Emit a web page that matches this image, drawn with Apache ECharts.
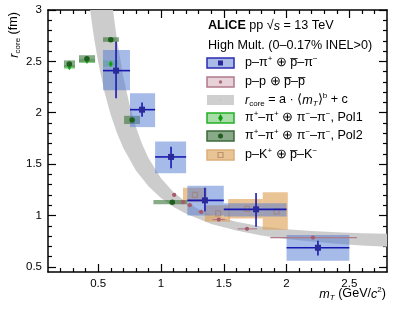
<!DOCTYPE html>
<html><head><meta charset="utf-8">
<script src="https://cdn.jsdelivr.net/npm/echarts@6/dist/echarts.min.js"></script>
<style>html,body{margin:0;padding:0;background:#fff}#c{width:400px;height:310px}</style>
</head><body><div id="c"></div>
<script>
const FONT = '"Liberation Sans", Arial, Helvetica, sans-serif';

// ---- axis ticks ----
const xMajor = [0.5, 1, 1.5, 2, 2.5];
const xMinor = [0.2,0.3,0.4,0.6,0.7,0.8,0.9,1.1,1.2,1.3,1.4,1.6,1.7,1.8,1.9,2.1,2.2,2.3,2.4,2.6,2.7];
const yMajor = [0.5, 1, 1.5, 2, 2.5, 3];
const yMinor = [0.6,0.7,0.8,0.9,1.1,1.2,1.3,1.4,1.6,1.7,1.8,1.9,2.1,2.2,2.3,2.4,2.6,2.7,2.8,2.9];
const xTickLabels = ['0.5', '1', '1.5', '2', '2.5'];
const yTickLabels = ['0.5', '1', '1.5', '2', '2.5', '3'];

// ---- p–pi ----
const ppiX     = [0.642, 0.849, 1.08, 1.35, 1.757, 2.25];
const ppiY     = [2.41, 2.03, 1.57, 1.147, 1.06, 0.686];
const ppiXLo   = [0.538, 0.753, 0.953, 1.21, 1.50, 2.00];
const ppiXHi   = [0.753, 0.953, 1.20, 1.50, 2.00, 2.50];
const ppiSysLo = [2.22, 1.86, 1.41, 1.00, 0.99, 0.56];
const ppiSysHi = [2.61, 2.19, 1.72, 1.29, 1.12, 0.81];
const ppiStatLo= [2.14, 1.96, 1.46, 1.04, 0.89, 0.61];
const ppiStatHi= [2.69, 2.10, 1.67, 1.27, 1.22, 0.755];

// ---- p–p ----
const ppX   = [1.105, 1.175, 1.23, 1.32, 1.46, 1.685, 2.21];
const ppY   = [1.20, 1.13, 1.10, 1.035, 0.96, 0.87, 0.785];
const ppXLo = [1.09, 1.16, 1.21, 1.29, 1.41, 1.61, 1.87];
const ppXHi = [1.12, 1.19, 1.25, 1.34, 1.51, 1.765, 2.56];

// ---- p–K ----
const pkX     = [1.27, 1.455, 1.685, 1.92];
const pkY     = [1.20, 1.02, 1.065, 1.04];
const pkXLo   = [1.175, 1.35, 1.535, 1.81];
const pkXHi   = [1.365, 1.55, 1.81, 2.01];
const pkSysLo = [1.13, 0.94, 0.97, 0.86];
const pkSysHi = [1.27, 1.10, 1.16, 1.225];

// ---- pi–pi Pol1 ----
const pol1X     = [0.27, 0.41, 0.60];
const pol1Y     = [2.445, 2.505, 2.475];
const pol1XLo   = [0.227, 0.347, 0.538];
const pol1XHi   = [0.315, 0.475, 0.66];
const pol1SysLo = [2.425, 2.485, 2.45];
const pol1SysHi = [2.465, 2.525, 2.51];

// ---- pi–pi Pol2 ----
const pol2X     = [0.27, 0.41, 0.60, 0.77, 1.09];
const pol2Y     = [2.475, 2.525, 2.71, 1.93, 1.13];
const pol2XLo   = [0.227, 0.347, 0.538, 0.706, 0.94];
const pol2XHi   = [0.315, 0.475, 0.665, 0.833, 1.21];
const pol2SysLo = [2.44, 2.49, 2.69, 1.89, 1.11];
const pol2SysHi = [2.51, 2.56, 2.735, 1.97, 1.15];

// ---- fit band edges ----
const bandUpX = [0.60,0.61,0.618,0.63,0.65,0.7,0.75,0.8,0.85,0.9,1.0,1.1,1.2,1.3,1.4,1.6,1.8,2.0,2.2,2.4,2.6,2.8,2.9];
const bandUpY = [3.188,3.08,3.0,2.883,2.708,2.349,2.075,1.862,1.694,1.560,1.362,1.227,1.131,1.061,1.008,0.938,0.894,0.865,0.848,0.836,0.828,0.822,0.820];
const bandLoX = [0.42,0.435,0.45,0.47,0.5,0.55,0.6,0.65,0.7,0.8,0.9,1.0,1.1,1.2,1.4,1.6,1.8,2.0,2.2,2.4,2.6,2.8,2.9];
const bandLoY = [3.157,3.006,2.869,2.704,2.491,2.203,1.979,1.801,1.657,1.439,1.284,1.170,1.083,1.016,0.918,0.853,0.806,0.772,0.746,0.725,0.709,0.696,0.690];

const X_MIN = 0.1, X_MAX = 2.8, Y_MIN = 0.45, Y_MAX = 3.0;

function boxSeries(name, xlo, xhi, ylo, yhi, fill, z) {
  return {
    type: 'custom', name, z, clip: true, silent: true,
    data: xlo.map((v, i) => [v, xhi[i], ylo[i], yhi[i]]),
    encode: { x: [0, 1], y: [2, 3] },
    renderItem(params, api) {
      const a = api.coord([api.value(0), api.value(3)]);
      const b = api.coord([api.value(1), api.value(2)]);
      return { type: 'rect', shape: { x: a[0], y: a[1], width: b[0] - a[0], height: b[1] - a[1] }, style: { fill } };
    }
  };
}

function markerEl(kind, c, s, color) {
  if (kind === 'square') return { type: 'rect', shape: { x: c[0] - s / 2, y: c[1] - s / 2, width: s, height: s }, style: { fill: color } };
  if (kind === 'hsquare') return { type: 'rect', shape: { x: c[0] - s / 2, y: c[1] - s / 2, width: s, height: s }, style: { fill: 'none', stroke: color, lineWidth: 1.2 } };
  if (kind === 'diamond') return { type: 'polygon', shape: { points: [[c[0], c[1] - s * 0.65], [c[0] + s * 0.4, c[1]], [c[0], c[1] + s * 0.65], [c[0] - s * 0.4, c[1]]] }, style: { fill: color } };
  return { type: 'circle', shape: { cx: c[0], cy: c[1], r: s / 2 }, style: { fill: color } };
}

function pointSeries(name, xs, ys, xlo, xhi, ylo, yhi, kind, size, mColor, lColor, lw, z) {
  return {
    type: 'custom', name, z, clip: true, silent: true,
    data: xs.map((v, i) => [v, ys[i], xlo ? xlo[i] : v, xhi ? xhi[i] : v, ylo ? ylo[i] : ys[i], yhi ? yhi[i] : ys[i]]),
    encode: { x: 0, y: 1 },
    renderItem(params, api) {
      const c = api.coord([api.value(0), api.value(1)]);
      const l = api.coord([api.value(2), api.value(1)]);
      const r = api.coord([api.value(3), api.value(1)]);
      const t = api.coord([api.value(0), api.value(5)]);
      const b = api.coord([api.value(0), api.value(4)]);
      const ch = [];
      if (r[0] - l[0] > 0.5) ch.push({ type: 'line', shape: { x1: l[0], y1: c[1], x2: r[0], y2: c[1] }, style: { stroke: lColor, lineWidth: lw } });
      if (b[1] - t[1] > 0.5) ch.push({ type: 'line', shape: { x1: c[0], y1: t[1], x2: c[0], y2: b[1] }, style: { stroke: lColor, lineWidth: lw } });
      ch.push(markerEl(kind, c, size, mColor));
      return { type: 'group', children: ch };
    }
  };
}

const bandSeries = {
  type: 'custom', name: 'fit', z: 1, clip: true, silent: true,
  data: [[bandLoX[0], bandLoY[0]]],
  renderItem(params, api) {
    const pts = [];
    for (let i = 0; i < bandLoX.length; i++) pts.push(api.coord([bandLoX[i], bandLoY[i]]));
    for (let i = bandUpX.length - 1; i >= 0; i--) pts.push(api.coord([bandUpX[i], bandUpY[i]]));
    return { type: 'polygon', shape: { points: pts }, style: { fill: '#cccccc' } };
  }
};

function xAx(pos, ticks, len, showLine, labels) {
  return {
    type: 'value', min: X_MIN, max: X_MAX, position: pos,
    axisLine: { show: showLine, onZero: false, lineStyle: { color: '#000', width: 1.5 } },
    axisTick: { show: true, inside: true, length: len, customValues: ticks, lineStyle: { color: '#000', width: 1.2 } },
    axisLabel: labels ? { show: true, customValues: ticks, formatter: v => xTickLabels[xMajor.indexOf(+v.toFixed(2))] ?? '', color: '#000', fontSize: 11.5, fontFamily: FONT, margin: 6 } : { show: false },
    splitLine: { show: false }
  };
}
function yAx(pos, ticks, len, showLine, labels) {
  return {
    type: 'value', min: Y_MIN, max: Y_MAX, position: pos,
    axisLine: { show: showLine, onZero: false, lineStyle: { color: '#000', width: 1.5 } },
    axisTick: { show: true, inside: true, length: len, customValues: ticks, lineStyle: { color: '#000', width: 1.2 } },
    axisLabel: labels ? { show: true, customValues: ticks, formatter: v => yTickLabels[yMajor.indexOf(+v.toFixed(2))] ?? '', color: '#000', fontSize: 11.5, fontFamily: FONT, margin: 6 } : { show: false },
    splitLine: { show: false }
  };
}

const richBase = {
  n: { fontSize: 12.6, fontFamily: FONT, color: '#000', lineHeight: 16 },
  i: { fontSize: 12.6, fontFamily: FONT, fontStyle: 'italic', color: '#000', lineHeight: 16 },
  b: { fontSize: 12.6, fontFamily: FONT, fontWeight: 'bold', color: '#000', lineHeight: 16 },
  sup: { fontSize: 8, fontFamily: FONT, color: '#000', lineHeight: 10, verticalAlign: 'top' },
  sub: { fontSize: 8, fontFamily: FONT, color: '#000', lineHeight: 10, verticalAlign: 'bottom' },
  subi: { fontSize: 8, fontFamily: FONT, fontStyle: 'italic', color: '#000', lineHeight: 10, verticalAlign: 'bottom' }
};
function txt(x, y, text, align, extra) {
  return Object.assign({ type: 'text', x, y, z: 100, silent: true, style: { text, rich: richBase, fontSize: 12.6, fontFamily: FONT, fill: '#000', align: align || 'left', verticalAlign: 'middle' } }, extra || {});
}

const legendRows = [63, 82, 100, 118, 136, 155];
const legendIcons = [
  { fill: '#a9bbe6', stroke: '#2a2ab0', m: 'square', mc: '#2a2a9a', ms: 5 },
  { fill: '#e6d2d8', stroke: '#b07a88', m: 'circle', mc: '#b06a7a', ms: 3.5 },
  { fill: '#cfcfcf', stroke: null, m: 'circle', mc: '#bdbdbd', ms: 1.5 },
  { fill: '#a8dca8', stroke: '#22b022', m: 'diamond', mc: '#109a10', ms: 6 },
  { fill: '#88aa88', stroke: '#3a6a3a', m: 'circle', mc: '#1e5e1e', ms: 5 },
  { fill: '#e9c596', stroke: '#dcae78', m: 'hsquare', mc: '#c09070', ms: 5 }
];
const legendTexts = [
  '{n|p–π}{sup|+}{n| ⊕ p̅–π}{sup|−}',
  '{n|p–p ⊕ p̅–p̅}',
  '{i|r}{sub|core}{n| = a · ⟨}{i|m}{subi|T}{n|⟩}{sup|b}{n| + c}',
  '{n|π}{sup|+}{n|–π}{sup|+}{n| ⊕ π}{sup|−}{n|–π}{sup|−}{n|, Pol1}',
  '{n|π}{sup|+}{n|–π}{sup|+}{n| ⊕ π}{sup|−}{n|–π}{sup|−}{n|, Pol2}',
  '{n|p–K}{sup|+}{n| ⊕ p̅–K}{sup|−}'
];

const graphics = [];
legendRows.forEach((y, k) => {
  const ic = legendIcons[k];
  graphics.push({ type: 'rect', z: 100, silent: true, shape: { x: 207, y: y - 5, width: 27, height: 10 }, style: { fill: ic.fill, stroke: ic.stroke || null, lineWidth: ic.stroke ? 1.5 : 0 } });
  graphics.push(Object.assign({ z: 101, silent: true }, markerEl(ic.m, [220.5, y], ic.ms, ic.mc)));
  graphics.push(txt(245, y, legendTexts[k]));
});
graphics.push(txt(208, 26, '{b|ALICE}{n| pp √}{i|s}{n| = 13 TeV}'));
graphics.push(txt(208, 46, '{n|High Mult. (0–0.17% INEL>0)}'));
graphics.push(txt(386, 294, '{i|m}{subi|T}{n| (GeV/}{i|c}{sup|2}{n|)}', 'right'));
graphics.push(txt(14, 12, '{i|r}{sub|core}{n| (fm)}', 'right', { rotation: Math.PI / 2 }));

const chart = echarts.init(document.getElementById('c'), null, { renderer: 'canvas' });
chart.setOption({
  animation: false,
  backgroundColor: '#fff',
  grid: { left: 48, right: 13, top: 10, bottom: 38, containLabel: false },
  xAxis: [xAx('bottom', xMajor, 8, true, true), xAx('bottom', xMinor, 4, false, false), xAx('top', xMajor, 8, true, false), xAx('top', xMinor, 4, false, false)],
  yAxis: [yAx('left', yMajor, 8, true, true), yAx('left', yMinor, 4, false, false), yAx('right', yMajor, 8, true, false), yAx('right', yMinor, 4, false, false)],
  series: [
    bandSeries,
    boxSeries('pK sys', pkXLo, pkXHi, pkSysLo, pkSysHi, 'rgba(222,160,85,0.62)', 2),
    boxSeries('pol1 sys', pol1XLo, pol1XHi, pol1SysLo, pol1SysHi, 'rgba(90,200,90,0.5)', 3),
    boxSeries('pol2 sys', pol2XLo, pol2XHi, pol2SysLo, pol2SysHi, 'rgba(50,110,50,0.58)', 3),
    boxSeries('ppi sys', ppiXLo, ppiXHi, ppiSysLo, ppiSysHi, 'rgba(80,120,210,0.5)', 4),
    pointSeries('pK', pkX, pkY, null, null, null, null, 'hsquare', 5, 'rgba(160,130,120,0.75)', '#c09070', 1, 5),
    pointSeries('pp', ppX, ppY, ppXLo, ppXHi, null, null, 'circle', 4.2, '#a85a6c', '#b07a88', 1.1, 6),
    pointSeries('pol1', pol1X, pol1Y, null, null, null, null, 'diamond', 5, '#10a010', '#10a010', 1, 6),
    pointSeries('pol2', pol2X, pol2Y, null, null, null, null, 'circle', 5.5, '#1e5e1e', '#1e5e1e', 1, 6),
    pointSeries('ppi', ppiX, ppiY, ppiXLo, ppiXHi, ppiStatLo, ppiStatHi, 'square', 6, '#2a2a9a', '#1818b0', 1.6, 7)
  ],
  graphic: graphics
});
</script></body></html>
